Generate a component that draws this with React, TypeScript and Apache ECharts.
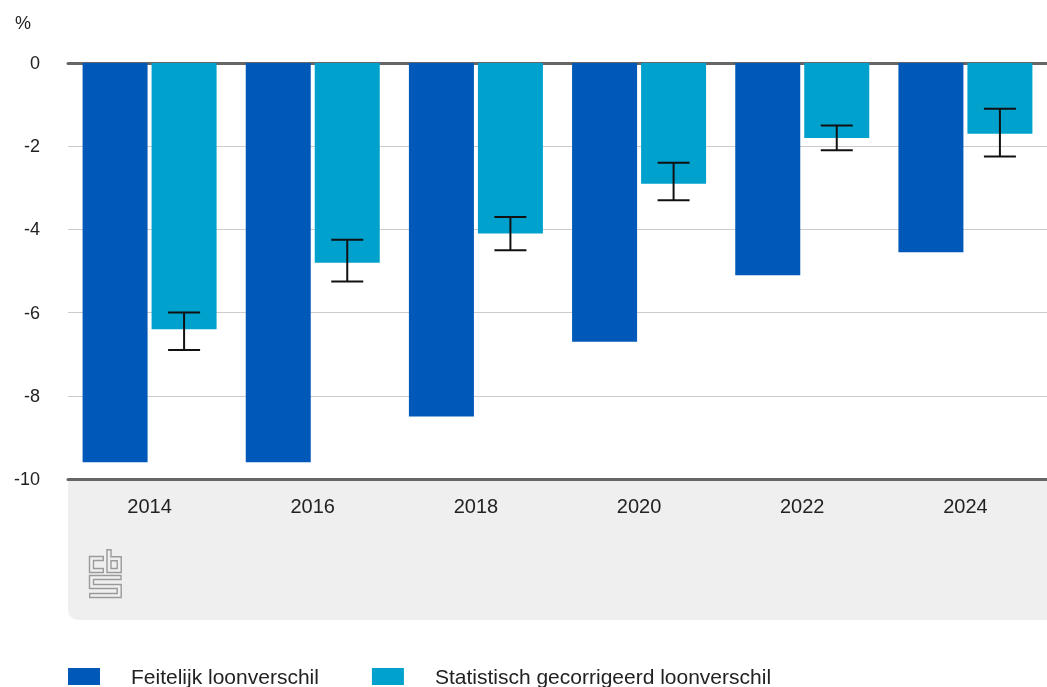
import React, { useEffect, useRef } from "react";
import * as echarts from "echarts";

const categories = ["2014", "2016", "2018", "2020", "2022", "2024"];
const feitelijk = [-9.6, -9.6, -8.5, -6.7, -5.1, -4.55];
const gecorrigeerd = [-6.4, -4.8, -4.1, -2.9, -1.8, -1.7];
const errHigh = [-6.0, -4.25, -3.7, -2.4, -1.5, -1.1];
const errLow = [-6.9, -5.25, -4.5, -3.3, -2.1, -2.25];
const seriesNames = ["Feitelijk loonverschil", "Statistisch gecorrigeerd loonverschil"];

const DARK = "#0058b8";
const LIGHT = "#00a1cd";
const BAR_W = 65;
const BAR_GAP_PX = 4;
const FONT = "Liberation Sans, Arial, sans-serif";

function shorten(pts: number[][], d: number) {
  const out = pts.map((p) => p.slice());
  const move = (a: number[], b: number[]) => {
    const dx = b[0] - a[0];
    const dy = b[1] - a[1];
    const len = Math.hypot(dx, dy) || 1;
    a[0] += (dx / len) * d;
    a[1] += (dy / len) * d;
  };
  move(out[0], pts[1]);
  move(out[out.length - 1], pts[pts.length - 2]);
  return out;
}

export default function App() {
  const ref = useRef<HTMLDivElement>(null);
  useEffect(() => {
    const chart = echarts.init(ref.current!, undefined, { renderer: "svg" });
    const offset = (BAR_W + BAR_GAP_PX) / 2;
    const logoOrigin = [89, 548];
    const logoPaths = [
      [[15, 10.5], [2.5, 10.5], [2.5, 22.5], [15, 22.5]],
      [[20, 1], [20, 22.5], [30.2, 22.5], [30.2, 10.8], [20, 10.8]],
      [[32.7, 29.5], [2.5, 29.5], [2.5, 38.5], [30.2, 38.5], [30.2, 47.5], [0, 47.5]],
    ];
    const logoEls: any[] = [];
    logoPaths.forEach((pts) => {
      logoEls.push({ type: "polyline", shape: { points: pts }, style: { stroke: "#9a9a9a", lineWidth: 5.4, fill: null, lineJoin: "miter", lineCap: "butt" }, z: -5 });
    });
    logoPaths.forEach((pts) => {
      logoEls.push({ type: "polyline", shape: { points: shorten(pts, 1.4) }, style: { stroke: "#efefef", lineWidth: 2.6, fill: null, lineJoin: "miter", lineCap: "butt" }, z: -4 });
    });
    chart.setOption({
      animation: false,
      textStyle: { fontFamily: FONT },
      grid: { left: 68, right: 0, top: 63, height: 416, containLabel: false },
      graphic: [
        { type: "rect", shape: { x: 68, y: 479, width: 979, height: 141, r: [0, 0, 0, 10] }, style: { fill: "#efefef" }, z: -10 },
        { type: "group", x: logoOrigin[0], y: logoOrigin[1], children: logoEls, z: -5 },
        { type: "text", x: 15, y: 23, style: { text: "%", font: "18px " + FONT, fill: "#222", verticalAlign: "middle" } },
      ],
      legend: {
        left: 68,
        top: 666,
        padding: 0,
        itemWidth: 32,
        itemHeight: 17,
        itemGap: 53,
        icon: "rect",
        textStyle: { fontSize: 21, color: "#222", padding: [0, 0, 0, 26] },
        data: seriesNames,
      },
      xAxis: [
        {
          type: "category",
          data: categories,
          position: "bottom",
          axisLine: { onZero: false, lineStyle: { color: "#666", width: 3 } },
          axisTick: { show: false },
          axisLabel: { fontSize: 20, color: "#222", margin: 17 },
        },
        {
          type: "category",
          data: categories,
          position: "top",
          axisLine: { show: true, onZero: false, lineStyle: { color: "#666", width: 3 } },
          axisTick: { show: false },
          axisLabel: { show: false },
        },
      ],
      yAxis: {
        type: "value",
        min: -10,
        max: 0,
        interval: 2,
        axisLine: { show: false },
        axisTick: { show: false },
        axisLabel: { fontSize: 18, color: "#222", margin: 28 },
        splitLine: { lineStyle: { color: "#cccccc", width: 1 } },
      },
      series: [
        { name: seriesNames[0], type: "bar", data: feitelijk, barWidth: BAR_W, barGap: (BAR_GAP_PX / BAR_W) * 100 + "%", itemStyle: { color: DARK } },
        { name: seriesNames[1], type: "bar", data: gecorrigeerd, barWidth: BAR_W, itemStyle: { color: LIGHT } },
        {
          type: "custom",
          name: "err",
          z: 5,
          data: categories.map((_, i) => [i, errLow[i], errHigh[i]]),
          renderItem: (params: any, api: any) => {
            const idx = api.value(0);
            const p1 = api.coord([idx, api.value(1)]);
            const p2 = api.coord([idx, api.value(2)]);
            const x = p1[0] + offset;
            const hw = 16;
            const style = { stroke: "#111", lineWidth: 2 };
            return {
              type: "group",
              children: [
                { type: "line", shape: { x1: x, y1: p1[1], x2: x, y2: p2[1] }, style },
                { type: "line", shape: { x1: x - hw, y1: p1[1], x2: x + hw, y2: p1[1] }, style },
                { type: "line", shape: { x1: x - hw, y1: p2[1], x2: x + hw, y2: p2[1] }, style },
              ],
            };
          },
        },
      ],
    });
    return () => chart.dispose();
  }, []);
  return <div ref={ref} style={{ position: "fixed", left: 0, top: 0, width: 1047, height: 687 }} />;
}
